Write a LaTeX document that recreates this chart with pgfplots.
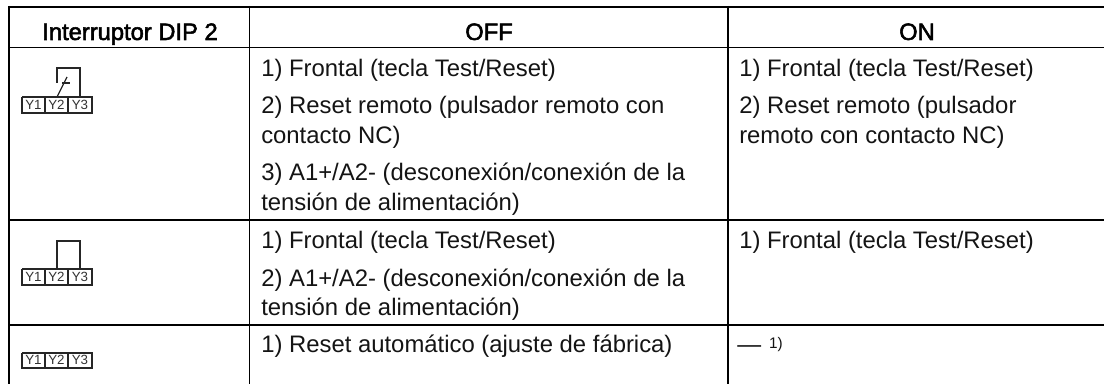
\documentclass[border=0pt]{standalone}
\usepackage{pgfplots}
\pgfplotsset{compat=1.18}
\usepackage{fontspec}
\setmainfont{Liberation Sans}
\newfontface\hd{Liberation Sans}[FakeBold=2.2]
\newcommand{\T}[3]{\node[anchor=base west,inner sep=0pt,font=\fontsize{17.9}{20}\selectfont,text=black!92] at (axis cs:#1,#2) {#3};}
\newcommand{\HD}[2]{\node[anchor=base,inner sep=0pt,font=\fontsize{17.8}{20}\selectfont\hd,text=black] at (axis cs:#1,40) {#2};}
\begin{document}
\begin{tikzpicture}
\begin{axis}[
  scale only axis, width=828pt, height=288pt,
  xmin=0,xmax=1104,ymin=0,ymax=384,y dir=reverse,
  axis line style={draw=none}, tick style={draw=none},
  xtick=\empty, ytick=\empty, clip=true,
]
% table rules
\addplot[black,line width=1.1pt,forget plot] coordinates {(9,7)(1104,7)};
\addplot[black,line width=1.1pt,forget plot] coordinates {(9,47.5)(1104,47.5)};
\addplot[black,line width=1.1pt,forget plot] coordinates {(9,220)(1104,220)};
\addplot[black,line width=1.1pt,forget plot] coordinates {(9,325)(1104,325)};
\addplot[black,line width=1.1pt,forget plot] coordinates {(9,6)(9,384)};
\addplot[black,line width=1.1pt,forget plot] coordinates {(249.5,6)(249.5,384)};
\addplot[black,line width=1.1pt,forget plot] coordinates {(728,6)(728,384)};
% terminals row 1
\addplot[black!85,line width=.8pt,forget plot] coordinates {(22,97)(92,97)(92,113)(22,113)(22,97)};
\addplot[black!85,line width=.8pt,forget plot] coordinates {(45,97)(45,113)};
\addplot[black!85,line width=.8pt,forget plot] coordinates {(68,97)(68,113)};
\addplot[black!85,line width=.9pt,forget plot] coordinates {(57,83)(57,68)(80,68)(80,97)};
\addplot[black!85,line width=.9pt,forget plot] coordinates {(57,97)(67,77)};
\addplot[black!85,line width=.9pt,forget plot] coordinates {(62,83)(70,83)};
% terminals row 2
\addplot[black!85,line width=.8pt,forget plot] coordinates {(22,269)(92,269)(92,285)(22,285)(22,269)};
\addplot[black!85,line width=.8pt,forget plot] coordinates {(45,269)(45,285)};
\addplot[black!85,line width=.8pt,forget plot] coordinates {(68,269)(68,285)};
\addplot[black!85,line width=.9pt,forget plot] coordinates {(57,269)(57,241)(80,241)(80,269)};
% terminals row 3
\addplot[black!85,line width=.8pt,forget plot] coordinates {(22,353)(92,353)(92,368)(22,368)(22,353)};
\addplot[black!85,line width=.8pt,forget plot] coordinates {(45,353)(45,368)};
\addplot[black!85,line width=.8pt,forget plot] coordinates {(68,353)(68,368)};
\pgfplotsinvokeforeach{110,282,365}{
  \node[anchor=base,inner sep=0pt,font=\fontsize{10}{11}\selectfont,text=black!80] at (axis cs:33.5,#1) {Y1};
  \node[anchor=base,inner sep=0pt,font=\fontsize{10}{11}\selectfont,text=black!80] at (axis cs:56.5,#1) {Y2};
  \node[anchor=base,inner sep=0pt,font=\fontsize{10}{11}\selectfont,text=black!80] at (axis cs:80,#1) {Y3};
}
\HD{130}{Interruptor DIP 2}
\HD{489}{OFF}
\HD{917}{ON}
\T{261}{76.5}{1) Frontal (tecla Test/Reset)}
\T{261}{114}{2) Reset remoto (pulsador remoto con}
\T{261}{144}{contacto NC)}
\T{261}{181}{3) A1+/A2- (desconexión/conexión de la}
\T{261}{211}{tensión de alimentación)}
\T{261}{249}{1) Frontal (tecla Test/Reset)}
\T{261}{287}{2) A1+/A2- (desconexión/conexión de la}
\T{261}{316}{tensión de alimentación)}
\T{261}{353}{1) Reset automático (ajuste de fábrica)}
\T{739}{76.5}{1) Frontal (tecla Test/Reset)}
\T{739}{114}{2) Reset remoto (pulsador}
\T{739}{144}{remoto con contacto NC)}
\T{739}{249}{1) Frontal (tecla Test/Reset)}
\T{737}{353}{---\hspace{6pt}\raisebox{3pt}{\fontsize{11.5}{12}\selectfont 1)}}
\end{axis}
\end{tikzpicture}
\end{document}
